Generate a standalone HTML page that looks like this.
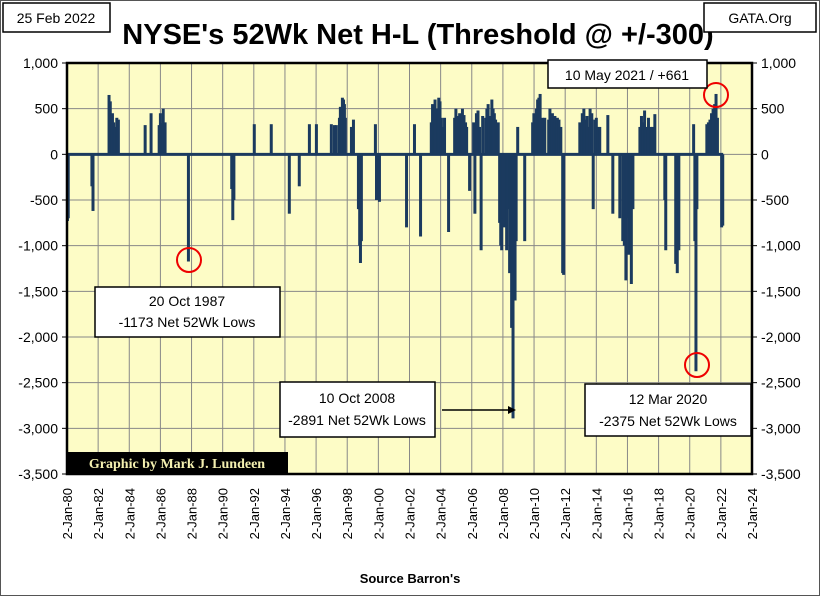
<!DOCTYPE html>
<html><head><meta charset="utf-8"><style>
body{margin:0;background:#fff;}
svg{display:block;font-family:"Liberation Sans",Arial,sans-serif;}
</style></head><body>
<svg id="chart" width="820" height="596" viewBox="0 0 820 596">
<rect x="0.5" y="0.5" width="819" height="595" fill="#fff" stroke="#555"/>
<rect x="67" y="63" width="685" height="411" fill="#fdfcc6"/>
<g id="grid"></g>
<g id="bars"></g>
<rect x="67" y="63" width="685" height="411" fill="none" stroke="#000" stroke-width="2.5"/>
<g id="ticks"></g>
<text x="418" y="44" text-anchor="middle" font-size="29" font-weight="bold">NYSE's 52Wk Net H-L (Threshold @ +/-300)</text>
<rect x="3" y="3" width="107" height="29" fill="#fff" stroke="#000" stroke-width="1.5"/>
<text x="56" y="23" text-anchor="middle" font-size="14">25 Feb 2022</text>
<rect x="704" y="3" width="112" height="29" fill="#fff" stroke="#000" stroke-width="1.5"/>
<text x="760" y="23" text-anchor="middle" font-size="14">GATA.Org</text>
<text x="410" y="583" text-anchor="middle" font-size="13" font-weight="bold">Source Barron's</text>
<rect x="67" y="452" width="221" height="22" fill="#000"/>
<text x="177" y="468" text-anchor="middle" font-size="14" font-weight="bold" fill="#f4f0b0" font-family="Liberation Serif,serif">Graphic by Mark J. Lundeen</text>
<g>
<circle cx="189" cy="260" r="12" fill="none" stroke="#e00" stroke-width="2"/>
<rect x="95" y="287" width="185" height="50" fill="#fff" stroke="#000" stroke-width="1.5"/>
<text x="187" y="306" text-anchor="middle" font-size="14">20 Oct 1987</text>
<text x="187" y="327" text-anchor="middle" font-size="14">-1173 Net 52Wk Lows</text></g>
<g>
<rect x="280" y="382" width="155" height="55" fill="#fff" stroke="#000" stroke-width="1.5"/>
<text x="357" y="403" text-anchor="middle" font-size="14">10 Oct 2008</text>
<text x="357" y="425" text-anchor="middle" font-size="14">-2891 Net 52Wk Lows</text>
<line x1="442" y1="410" x2="510" y2="410" stroke="#000" stroke-width="1.5"/>
<polygon points="516,410 508,406 508,414" fill="#000"/></g>
<g>
<circle cx="697" cy="365" r="12" fill="none" stroke="#e00" stroke-width="2"/>
<rect x="585" y="384" width="166" height="52" fill="#fff" stroke="#000" stroke-width="1.5"/>
<text x="668" y="404" text-anchor="middle" font-size="14">12 Mar 2020</text>
<text x="668" y="426" text-anchor="middle" font-size="14">-2375 Net 52Wk Lows</text></g>
<g>
<circle cx="716" cy="95" r="12" fill="none" stroke="#e00" stroke-width="2"/>
<rect x="548" y="60" width="159" height="28" fill="#fff" stroke="#000" stroke-width="1.5"/>
<text x="627" y="80" text-anchor="middle" font-size="14">10 May 2021 / +661</text></g>
</svg>
<script>
const dates=[
1980.03,1980.08,
1981.6,1981.67,
1982.7,1982.78,1982.85,1982.92,1983.0,1983.1,1983.2,1983.3,
1985.02,1985.4,1985.92,1986.0,1986.08,1986.18,1986.3,
1987.8,
1990.58,1990.65,1990.72,
1992.03,1993.12,1994.28,1994.92,1995.57,1996.02,
1996.98,1997.18,1997.3,1997.5,1997.56,1997.62,1997.69,1997.76,1997.82,1997.88,1998.27,1998.4,
1998.72,1998.8,1998.85,1998.91,
1999.81,1999.88,2000.07,
2001.81,2002.32,2002.71,
2003.4,2003.48,2003.56,2003.64,2003.72,2003.8,2003.88,2003.96,2004.05,2004.15,2004.25,
2004.51,
2004.9,2004.98,2005.06,2005.14,2005.22,2005.3,2005.4,2005.5,2005.6,2005.67,
2005.86,
2006.12,2006.2,2006.3,2006.4,2006.5,2006.6,2006.7,
2006.89,2006.97,2007.05,2007.13,2007.21,2007.29,2007.37,2007.45,2007.53,2007.61,2007.7,
2007.79,2007.86,2007.92,2008.0,2008.1,2008.24,2008.35,2008.43,2008.5,2008.56,2008.65,2008.72,2008.78,2008.85,2008.95,
2009.4,
2009.91,2009.99,2010.07,2010.15,2010.23,2010.31,2010.39,2010.47,2010.55,2010.62,2010.69,
2010.94,2011.02,2011.1,2011.18,2011.26,2011.34,2011.42,2011.5,2011.6,2011.72,
2011.84,2011.9,
2012.94,2013.02,2013.1,2013.2,2013.3,2013.4,2013.5,2013.6,2013.71,2013.8,2013.9,2014.0,2014.1,2014.22,
2014.74,2015.06,
2015.51,2015.7,2015.8,2015.9,2016.0,2016.08,2016.15,2016.25,2016.35,
2016.8,2016.9,2017.0,2017.1,2017.2,2017.35,2017.5,2017.6,2017.76,
2018.4,2018.46,
2019.1,2019.2,2019.3,
2020.25,2020.33,2020.4,2020.46,
2021.1,2021.2,2021.3,2021.4,2021.5,2021.6,2021.69,2021.78,
2022.05,2022.12];
const values=[
-730,-700,
-350,-620,
650,580,320,450,350,300,400,380,
320,450,320,450,340,500,350,
-1173,
-380,-720,-500,
330,330,-650,-350,330,330,
330,320,320,400,520,380,620,600,550,400,300,380,
-600,-1000,-1190,-950,
330,-500,-520,
-800,330,-900,
350,550,480,600,450,500,620,580,400,300,400,
-850,
400,500,420,300,450,380,500,430,350,300,
-400,
350,-650,450,480,300,-1050,420,
400,500,550,350,420,600,500,450,380,300,350,
-750,-1000,-1050,-700,-800,-1050,-600,-1300,-1100,-1900,-2891,-1200,-1600,-950,300,
-950,
350,450,420,500,600,620,661,350,400,300,400,
380,500,300,450,350,420,300,400,380,300,
-1300,-1320,
350,300,450,500,380,420,300,500,450,-600,380,400,300,300,
430,-650,
-700,-950,-1000,-1380,-700,-1100,-850,-1420,-600,
300,420,350,480,300,400,300,300,440,
-500,-1050,
-1200,-1300,-1050,
330,-950,-2375,-600,
330,350,380,450,500,550,661,400,
-800,-780];
const yTicks=[1000,500,0,-500,-1000,-1500,-2000,-2500,-3000,-3500];
const xTickYears=[80,82,84,86,88,90,92,94,96,98,0,2,4,6,8,10,12,14,16,18,20,22,24];
const NS="http://www.w3.org/2000/svg";
const X0=67,X1=752,Y0=63,Y1=474;
function xs(yr){return X0+(yr-1980)/44*(X1-X0);}
function ys(v){return Y0+(1000-v)/4500*(Y1-Y0);}
function mk(tag,attrs,parent){const e=document.createElementNS(NS,tag);for(const k in attrs)e.setAttribute(k,attrs[k]);parent.appendChild(e);return e;}
const grid=document.getElementById('grid'),bars=document.getElementById('bars'),ticks=document.getElementById('ticks');
yTicks.forEach(v=>{
  const l=mk('line',{x1:X0,x2:X1,y1:ys(v),y2:ys(v),stroke:'#888','stroke-width':1},grid);
  
  
  const lab=v.toLocaleString('en-US');
  const t1=mk('text',{x:58,y:ys(v)+5,'text-anchor':'end','font-size':14},ticks);t1.textContent=lab;
  
  
  const t2=mk('text',{x:761,y:ys(v)+5,'text-anchor':'start','font-size':14},ticks);t2.textContent=lab;
  
  
  mk('line',{x1:X0-5,x2:X0,y1:ys(v),y2:ys(v),stroke:'#000'},ticks);
  mk('line',{x1:X1,x2:X1+5,y1:ys(v),y2:ys(v),stroke:'#000'},ticks);
});
xTickYears.forEach((y,i)=>{
  const yr=1980+i*2;const x=xs(yr);
  const l=mk('line',{x1:x,x2:x,y1:Y0,y2:Y1,stroke:'#888','stroke-width':1},grid);
  
  
  const t=mk('text',{x:0,y:0,'text-anchor':'end','font-size':13,transform:`translate(${x+5},488) rotate(-90)`},ticks);
  t.textContent='2-Jan-'+String(y).padStart(2,'0');
  
  
});
const z=mk('line',{x1:X0,x2:xs(2022.15),y1:ys(0),y2:ys(0),stroke:'#1b3a5f','stroke-width':3},bars);


const n=Math.min(dates.length,values.length);
for(let i=0;i<n;i++){
  const b=mk('line',{x1:xs(dates[i]),x2:xs(dates[i]),y1:ys(0),y2:ys(values[i]),stroke:'#1b3a5f','stroke-width':3},bars);
  
  
}
</script>
</body></html>
